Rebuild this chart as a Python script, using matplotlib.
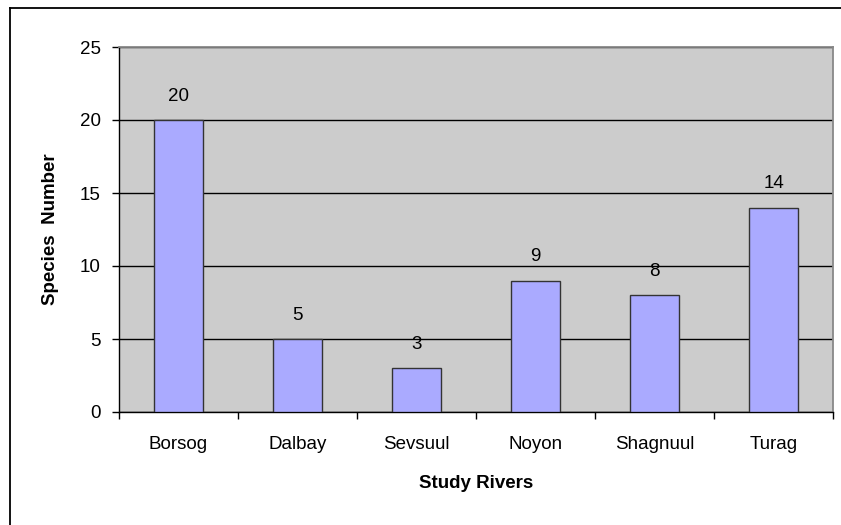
import matplotlib
matplotlib.use("Agg")
import matplotlib.pyplot as plt
from matplotlib.lines import Line2D
import numpy as np

plt.rcParams['font.family'] = ['Liberation Sans', 'DejaVu Sans']

rivers = ["Borsog", "Dalbay", "Sevsuul", "Noyon", "Shagnuul", "Turag"]
species = [20, 5, 3, 9, 8, 14]
yticks = [0, 5, 10, 15, 20, 25]

W, H = 841, 525
FS = 13.5
fig = plt.figure(figsize=(W / 100, H / 100), dpi=100)
fig.patch.set_facecolor('white')

# outer chart border (top and left visible)
fig.add_artist(Line2D([10 / W, 10 / W], [0, 1 - 8 / H], color='black', lw=1.3, transform=fig.transFigure))
fig.add_artist(Line2D([10 / W, 1], [1 - 8 / H, 1 - 8 / H], color='black', lw=1.3, transform=fig.transFigure))

left, right, top, bottom = 119, 833, 47, 412
ax = fig.add_axes([left / W, 1 - bottom / H, (right - left) / W, (bottom - top) / H])
ax.set_facecolor('#CCCCCC')

x = np.arange(len(rivers))
ax.bar(x, species, width=0.42, color='#AAAAFF', edgecolor='#333333', linewidth=1.0, zorder=3)

for xi, v in zip(x, species):
    ax.annotate(str(v), (xi, v), xytext=(0, 11), textcoords='offset points',
                ha='center', va='bottom', fontsize=FS, zorder=4)

ax.set_xlim(-0.5, len(rivers) - 0.5)
ax.set_ylim(0, 25)
ax.set_yticks(yticks)
ax.set_yticklabels([str(t) for t in yticks])
ax.yaxis.grid(True, color='black', lw=1.0, zorder=1)
ax.set_axisbelow(True)

ax.set_xticks(x)
ax.set_xticklabels(rivers)
ax.set_xticks(np.arange(len(rivers) + 1) - 0.5, minor=True)
ax.tick_params(axis='x', which='major', length=0, pad=17, labelsize=FS)
ax.tick_params(axis='x', which='minor', length=5, width=1, color='black', direction='out')
ax.tick_params(axis='y', length=5, width=1, color='black', direction='out', pad=8, labelsize=FS)

for s in ['top', 'right']:
    ax.spines[s].set_color('#888888')
    ax.spines[s].set_linewidth(1.3)
for s in ['left', 'bottom']:
    ax.spines[s].set_color('black')
    ax.spines[s].set_linewidth(1.0)

ax.set_xlabel('Study Rivers', fontsize=FS, fontweight='bold', labelpad=16)
ax.set_ylabel('Species  Number', fontsize=FS, fontweight='bold', labelpad=15)

fig.savefig('out.png', dpi=100)
